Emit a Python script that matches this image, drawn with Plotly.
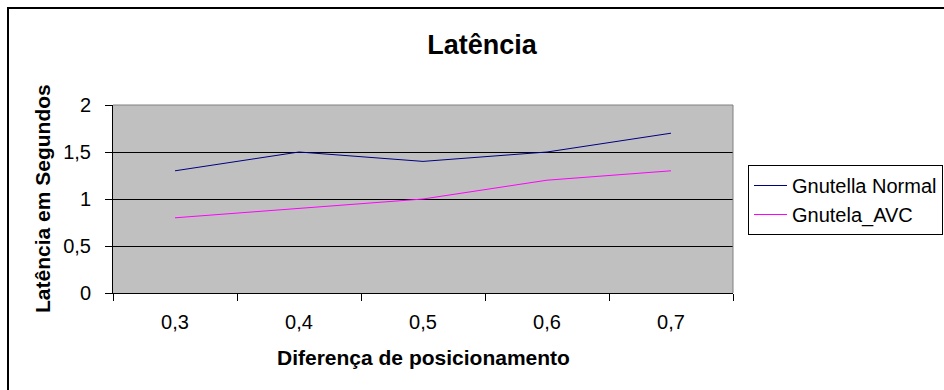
import plotly.graph_objects as go

# ---- data ----
categories = ["0,3", "0,4", "0,5", "0,6", "0,7"]
gnutella_normal = [1.3, 1.5, 1.4, 1.5, 1.7]
gnutela_avc = [0.8, 0.9, 1.0, 1.2, 1.3]
y_tick_vals = [0, 0.5, 1, 1.5, 2]
y_tick_text = ["0", "0,5", "1", "1,5", "2"]

FONT = "Arial, 'Liberation Sans', sans-serif"

W, H = 944, 390
L, R, T, B = 113, 211, 105, 97
PW = W - L - R
PH = H - T - B


def px_x(p):
    return (p - L) / PW


def px_y(p):
    return (H - B - p) / PH


fig = go.Figure()
fig.add_trace(go.Scatter(
    x=categories, y=gnutella_normal, mode="lines", name="Gnutella Normal",
    line=dict(color="#000080", width=1), legendgroup="a"))
fig.add_trace(go.Scatter(
    x=categories, y=gnutela_avc, mode="lines", name="Gnutela_AVC",
    line=dict(color="#FF00FF", width=1), legendgroup="b"))

fig.update_layout(
    width=W, height=H,
    margin=dict(l=L, r=R, t=T, b=B, pad=0, autoexpand=False),
    paper_bgcolor="white",
    plot_bgcolor="#C0C0C0",
    font=dict(family=FONT, color="black", size=20),
    title=dict(text="Latência", xref="container", yref="container",
               x=482 / W, y=1 - 45 / H, xanchor="center", yanchor="middle",
               font=dict(family=FONT, size=27, color="black", weight="bold")),
    showlegend=True,
    legend=dict(x=px_x(748), y=px_y(165), xanchor="left", yanchor="top",
                xref="paper", yref="paper",
                bordercolor="black", borderwidth=1, bgcolor="white",
                font=dict(family=FONT, size=20, color="black"),
                tracegroupgap=0, entrywidth=320, entrywidthmode="pixels",
                itemwidth=33),
    xaxis=dict(type="category", range=[-0.5, 4.5], showline=True,
               linecolor="black", linewidth=1, ticks="outside", ticklen=7,
               tickcolor="black", tickson="boundaries", showgrid=False,
               ticklabelstandoff=11, automargin=False,
               tickfont=dict(family=FONT, size=20, color="black")),
    yaxis=dict(range=[0, 2], tickvals=y_tick_vals, ticktext=y_tick_text,
               showline=True, linecolor="black", linewidth=1,
               ticks="outside", ticklen=7, tickcolor="black",
               showgrid=True, gridcolor="black", gridwidth=1,
               zeroline=False, ticklabelstandoff=10, automargin=False,
               tickfont=dict(family=FONT, size=20, color="black")),
    annotations=[
        dict(text="Diferença de posicionamento", xref="paper", yref="paper",
             x=0.5, y=px_y(357), xanchor="center", yanchor="middle",
             showarrow=False,
             font=dict(family=FONT, size=21, color="black", weight="bold")),
        dict(text="Latência em Segundos", xref="paper", yref="paper",
             x=px_x(42), y=0.5, xanchor="center", yanchor="middle",
             textangle=-90, showarrow=False,
             font=dict(family=FONT, size=21, color="black", weight="bold")),
    ],
    shapes=[
        # outer chart border (top and left visible)
        dict(type="rect", xref="paper", yref="paper",
             x0=px_x(8), y0=px_y(420), x1=px_x(980), y1=px_y(8),
             line=dict(color="black", width=2), layer="above"),
        # plot-area frame (top and right in grey)
        dict(type="line", xref="paper", yref="paper", x0=0, x1=1, y0=1, y1=1,
             line=dict(color="#808080", width=1), layer="above"),
        dict(type="line", xref="paper", yref="paper", x0=1, x1=1, y0=0, y1=1,
             line=dict(color="#808080", width=1), layer="above"),
    ],
)

fig.write_html("out.html")
